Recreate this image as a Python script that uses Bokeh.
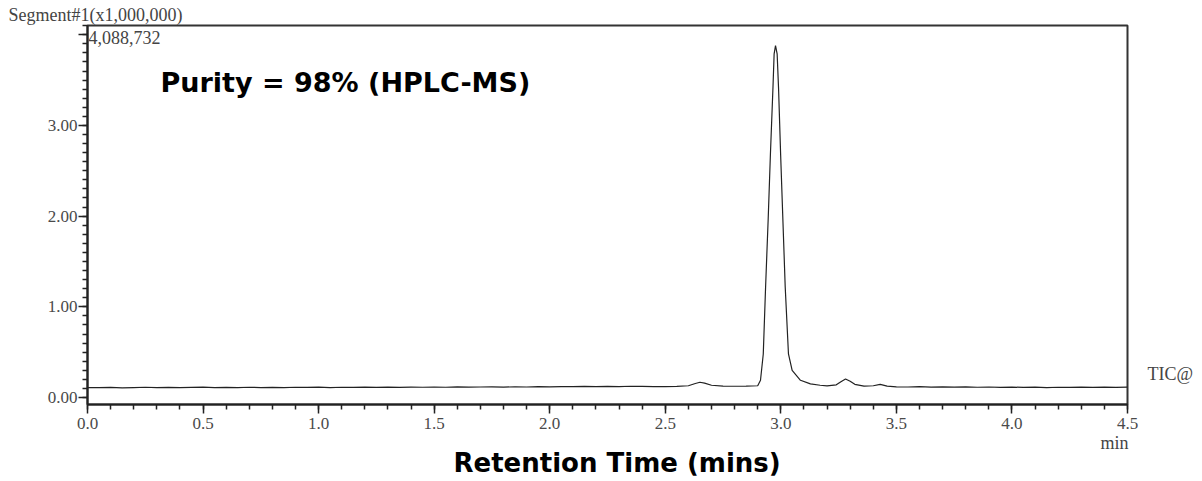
from bokeh.plotting import figure
from bokeh.models import (Range1d, FixedTicker, CustomJSTickFormatter, Label, Title, LinearAxis)
from bokeh.embed import file_html
from bokeh.resources import INLINE

# ---- data (intensity in x1,000,000 counts) ----
time_min = [0.00, 0.05, 0.10, 0.15, 0.20, 0.25, 0.30, 0.35, 0.40, 0.45,
            0.50, 0.55, 0.60, 0.65, 0.70, 0.75, 0.80, 0.85, 0.90, 0.95,
            1.00, 1.05, 1.10, 1.15, 1.20, 1.25, 1.30, 1.35, 1.40, 1.45,
            1.50, 1.55, 1.60, 1.65, 1.70, 1.75, 1.80, 1.85, 1.90, 1.95,
            2.00, 2.05, 2.10, 2.15, 2.20, 2.25, 2.30, 2.35, 2.40, 2.45,
            2.50, 2.55, 2.60, 2.63, 2.65, 2.67, 2.70, 2.75, 2.80, 2.85,
            2.90, 2.912, 2.924, 2.934, 2.945, 2.955, 2.966, 2.971, 2.977,
            2.984, 2.990, 2.999, 3.009, 3.019, 3.033, 3.049, 3.085, 3.128,
            3.17, 3.20, 3.24, 3.26, 3.28, 3.30, 3.32, 3.36, 3.40, 3.43,
            3.46, 3.50, 3.55, 3.60, 3.65, 3.70, 3.75, 3.80, 3.85, 3.90,
            3.95, 4.00, 4.05, 4.10, 4.15, 4.20, 4.25, 4.30, 4.35, 4.40,
            4.45, 4.50]
intensity = [0.110, 0.108, 0.112, 0.106, 0.110, 0.113, 0.109, 0.112, 0.108, 0.111,
             0.114, 0.110, 0.112, 0.108, 0.113, 0.110, 0.112, 0.109, 0.113, 0.111,
             0.114, 0.110, 0.113, 0.111, 0.115, 0.112, 0.114, 0.111, 0.115, 0.113,
             0.116, 0.113, 0.117, 0.114, 0.116, 0.118, 0.115, 0.118, 0.116, 0.119,
             0.117, 0.121, 0.119, 0.122, 0.120, 0.123, 0.121, 0.124, 0.122, 0.120,
             0.121, 0.123, 0.130, 0.155, 0.168, 0.158, 0.135, 0.125, 0.124, 0.126,
             0.130, 0.190, 0.480, 1.216, 1.950, 2.687, 3.420, 3.790, 3.880,
             3.790, 3.420, 2.687, 1.950, 1.216, 0.480, 0.300, 0.190, 0.150,
             0.135, 0.128, 0.140, 0.175, 0.205, 0.180, 0.145, 0.125, 0.130, 0.145,
             0.125, 0.118, 0.116, 0.119, 0.115, 0.117, 0.114, 0.117, 0.113, 0.116,
             0.112, 0.115, 0.111, 0.114, 0.110, 0.113, 0.111, 0.115, 0.112, 0.114,
             0.111, 0.115]

x_major = [0.0, 0.5, 1.0, 1.5, 2.0, 2.5, 3.0, 3.5, 4.0, 4.5]
y_major = [0.0, 1.0, 2.0, 3.0, 4.0]
x_minor = [i / 10 for i in range(0, 46)]
y_minor = [i / 10 for i in range(0, 42)]

SERIF = "Liberation Serif"
SANS = "DejaVu Sans"

p = figure(width=1200, height=480, output_backend="svg", toolbar_location=None,
           x_range=Range1d(0.0, 4.5), y_range=Range1d(-0.077, 4.102))
p.min_border_left = 87
p.min_border_right = 73
p.min_border_top = 25
p.min_border_bottom = 76
p.grid.visible = False
p.outline_line_color = "#333333"
p.outline_line_width = 2
p.background_fill_color = "white"
p.border_fill_color = "white"

p.line(time_min, intensity, line_color="#222222", line_width=1.2)

for ax in (p.xaxis[0], p.yaxis[0]):
    ax.axis_line_color = "#222222"
    ax.axis_line_width = 2
    ax.major_tick_line_color = "#222222"
    ax.minor_tick_line_color = "#222222"
    ax.major_tick_line_width = 1.5
    ax.minor_tick_line_width = 1.5
    ax.major_tick_in = 0
    ax.minor_tick_in = 0
    ax.major_tick_out = 9
    ax.minor_tick_out = 5
    ax.major_label_text_font = SERIF
    ax.major_label_text_font_size = "17px"
    ax.major_label_text_color = "#4a4a4a"

p.xaxis[0].ticker = FixedTicker(ticks=x_major, minor_ticks=x_minor)
p.xaxis[0].formatter = CustomJSTickFormatter(code="return tick.toFixed(1);")
p.xaxis[0].major_label_standoff = 4

p.yaxis[0].ticker = FixedTicker(ticks=y_major, minor_ticks=y_minor)
p.yaxis[0].formatter = CustomJSTickFormatter(code="return tick > 3.5 ? '' : tick.toFixed(2);")
p.yaxis[0].major_label_standoff = 1

# "min" unit label under the end of the time axis
unit_axis = LinearAxis(ticker=FixedTicker(ticks=[4.444]),
                       formatter=CustomJSTickFormatter(code="return 'min';"))
unit_axis.axis_line_color = None
unit_axis.major_tick_line_color = None
unit_axis.minor_tick_line_color = None
unit_axis.major_tick_out = 0
unit_axis.major_label_standoff = 1
unit_axis.major_label_text_font = SERIF
unit_axis.major_label_text_font_size = "18px"
unit_axis.major_label_text_color = "#444444"
p.add_layout(unit_axis, "below")

# trace name on the right
tic_axis = LinearAxis(ticker=FixedTicker(ticks=[0.254]),
                      formatter=CustomJSTickFormatter(code="return 'TIC@';"))
tic_axis.axis_line_color = None
tic_axis.major_tick_line_color = None
tic_axis.minor_tick_line_color = None
tic_axis.major_tick_out = 0
tic_axis.major_label_standoff = 20
tic_axis.major_label_text_font = SERIF
tic_axis.major_label_text_font_size = "18px"
tic_axis.major_label_text_color = "#444444"
p.add_layout(tic_axis, "right")

# segment header (top-left)
p.title.text = "Segment#1(x1,000,000)"
p.title.align = "left"
p.title.offset = -79
p.title.standoff = 2
p.title.vertical_align = "bottom"
p.title.text_font = SERIF
p.title.text_font_size = "18px"
p.title.text_font_style = "normal"
p.title.text_color = "#444444"

# axis title below
p.add_layout(Title(text="Retention Time (mins)", align="left", offset=366,
                   standoff=-20, vertical_align="bottom",
                   text_font=SANS, text_font_style="bold",
                   text_font_size="26px", text_color="black"), "below")

# in-frame texts (screen units relative to frame bottom-left)
p.add_layout(Label(x=1, y=361, x_units="screen", y_units="screen",
                   text="4,088,732", text_font=SERIF,
                   text_font_size="18px", text_color="#444444"))
p.add_layout(Label(x=73, y=307, x_units="screen", y_units="screen",
                   text="Purity = 98% (HPLC-MS)", text_font=SANS,
                   text_font_style="bold", text_font_size="27px", text_color="black"))

open("out.html", "w").write(file_html(p, INLINE))
